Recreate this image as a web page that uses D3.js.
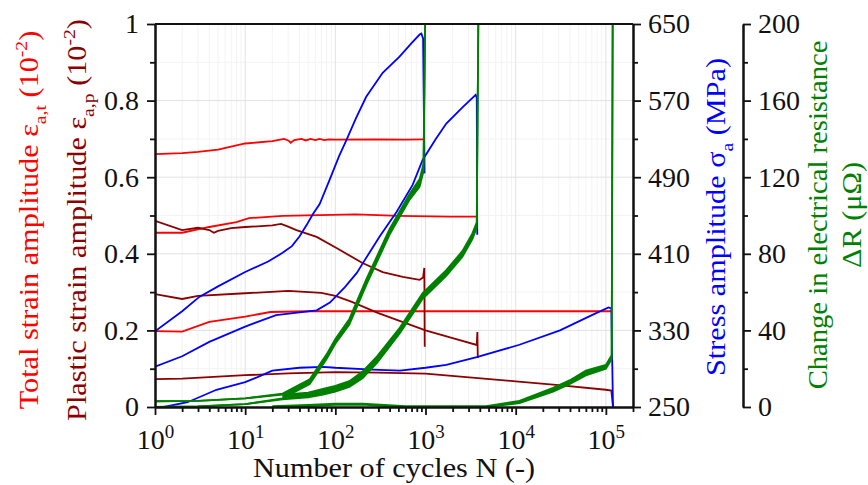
<!DOCTYPE html>
<html>
<head>
<meta charset="utf-8">
<style>
  body { margin: 0; background: #fff; }
  text { font-family: "Liberation Serif", "Times New Roman", serif; }
</style>
<title>Strain, stress and electrical resistance vs. number of cycles</title>
</head>
<body>
<script src="https://cdn.jsdelivr.net/npm/d3@7/dist/d3.min.js"></script>
<script>
  // ---- data: [N, value] ----
  // total strain amplitude (10^-2), three tests
  var totalA = [[1,0.66],[2,0.663],[3,0.666],[5,0.672],[10,0.688],[20,0.694],[27,0.700],[30,0.696],[32,0.690],[35,0.697],[42,0.70],[47,0.696],[53,0.70],[60,0.697],[67,0.70],[75,0.697],[85,0.699],[100,0.698],[300,0.699],[600,0.698],[950,0.699]];
  var totalB = [[1,0.455],[2,0.455],[4,0.47],[8,0.483],[11,0.493],[26,0.499],[170,0.503],[500,0.499],[1850,0.497],[3700,0.497]];
  var totalC = [[1,0.198],[2,0.197],[4,0.222],[10,0.236],[19,0.248],[50,0.25],[1000,0.25],[10000,0.25],[115000,0.25]];

  // plastic strain amplitude (10^-2)
  var plasticA = [[1,0.486],[2,0.462],[3,0.468],[4,0.462],[4.5,0.455],[5,0.46],[7,0.467],[10,0.47],[15,0.472],[20,0.474],[25,0.478],[30,0.471],[37,0.462],[62,0.444],[103,0.415],[200,0.376],[335,0.352],[560,0.34],[860,0.332],[940,0.338],[970,0.363],[980,0.157]];
  var plasticB = [[1,0.295],[2,0.282],[3,0.29],[10,0.297],[30,0.303],[70,0.298],[100,0.29],[150,0.275],[300,0.245],[1000,0.2],[2000,0.18],[3700,0.162],[3760,0.196],[3800,0.128]];
  var plasticC = [[1,0.073],[2,0.074],[10,0.083],[30,0.088],[100,0.091],[300,0.09],[1000,0.087],[10000,0.067],[30000,0.057],[100000,0.045],[115000,0.043],[120000,0.0]];

  // stress amplitude (MPa)
  var stressA = [[1,329],[2,350],[3.1,365],[5,376],[10,391],[18,402],[26,411],[33,418],[40,428],[48,440],[56,451],[67,462],[87,488],[110,512],[133,529],[170,552],[220,574],[335,599],[515,616],[700,630],[860,639],[900,640],[940,635],[975,494]];
  var stressB = [[1,292],[2,303],[4,318],[10,334],[22,346],[62,351],[87,359],[127,375],[173,390],[201,400],[310,428],[479,454],[720,482],[929,508],[1300,530],[1700,546],[2570,563],[3600,576],[3700,573],[3750,430]];
  var stressC = [[1.25,250],[2.3,255],[4.8,268],[10,276],[13.5,281],[20,288],[40,291],[73,292],[100,291],[260,289],[520,288],[1000,291],[1700,294],[3700,302],[11000,315],[31000,330],[70000,346],[107000,354],[115000,353],[120000,250]];

  // change in electrical resistance (µΩ): [N, lower, upper] of the oscillating band
  var resA = [[1,0,3],[3,0.3,3.2],[10,1.5,4.5],[26,4.5,7],[52,12,14.5],[80,25,27.5],[100,33,35.5],[143,43,46],[222,64,67],[400,90,93],[660,108,111],[860,115,119],[950,123,127],[990,200,200]];
  var resB = [[1,0,3],[3,0.3,3.2],[10,1.5,4.5],[26,4,6.5],[50,5,7.5],[73,6.5,9.5],[100,8,11],[143,10.5,13.5],[200,15,18.5],[290,23,26.5],[520,38.5,41.5],[930,56.5,59.5],[1700,68.5,71.5],[2570,78.5,81.5],[3300,87.5,90.5],[3700,93.5,96.5],[3850,200,200]];
  var resC = [[20,0,0.5],[50,0.5,1.1],[100,1.1,1.7],[200,1.2,1.8],[350,0.5,1.1],[600,0,0.4],[4700,0,0.4],[11000,2,3.2],[26000,8,10],[40000,12,14],[60000,16.5,19],[100000,20,22],[116000,25,27],[119000,200,200]];

  // ticks
  var xTicks = [1,10,100,1000,10000,100000];
  var xTickExp = ["0","1","2","3","4","5"];
  var strainTicks = [0,0.2,0.4,0.6,0.8,1];
  var strainLabels = ["0","0.2","0.4","0.6","0.8","1"];
  var strainMinor = [0.1,0.3,0.5,0.7,0.9];
  var stressTicks = [250,330,410,490,570,650];
  var stressMinor = [290,370,450,530,610];
  var resTicks = [0,40,80,120,160,200];
  var resMinor = [20,60,100,140,180];

  var colTotal = "#ff0000", colPlastic = "#8b0000", colStress = "#0000ff", colRes = "#008000";

  // ---- layout ----
  var width = 868, height = 485;
  var pLeft = 155, pRight = 633, pTop = 24, pBottom = 407;
  var fs = 28, ts = 27, stretch = 1.12;

  var x = d3.scaleLog().domain([1, 2e5]).range([pLeft, pRight]);
  var yStrain = d3.scaleLinear().domain([0, 1]).range([pBottom, pTop]);
  var yStress = d3.scaleLinear().domain([250, 650]).range([pBottom, pTop]);
  var yRes = d3.scaleLinear().domain([0, 200]).range([pBottom, pTop]);

  var xMinor = [];
  [1,10,100,1000,10000,100000].forEach(function(d) {
    for (var m = 2; m <= 9; m++) if (m * d <= 2e5) xMinor.push(m * d);
  });

  var svg = d3.select("body").append("svg")
    .attr("width", width)
    .attr("height", height);

  svg.append("defs").append("clipPath").attr("id", "plotclip")
    .append("rect").attr("x", pLeft).attr("y", pTop - 1)
    .attr("width", pRight - pLeft).attr("height", pBottom - pTop + 1);

  // grid: faint minor lines, light major lines
  var grid = svg.append("g").attr("stroke-width", 1);
  grid.selectAll(".hm").data(strainMinor).enter().append("line")
    .attr("stroke", "#f3f3f3")
    .attr("x1", pLeft).attr("x2", pRight)
    .attr("y1", function(d) { return yStrain(d); }).attr("y2", function(d) { return yStrain(d); });
  grid.selectAll(".vm").data(xMinor).enter().append("line")
    .attr("stroke", "#f3f3f3")
    .attr("y1", pTop).attr("y2", pBottom)
    .attr("x1", function(d) { return x(d); }).attr("x2", function(d) { return x(d); });
  grid.selectAll(".hg").data(strainTicks.slice(1, -1)).enter().append("line")
    .attr("stroke", "#e2e2e2")
    .attr("x1", pLeft).attr("x2", pRight)
    .attr("y1", function(d) { return yStrain(d); }).attr("y2", function(d) { return yStrain(d); });
  grid.selectAll(".vg").data(xTicks.slice(1)).enter().append("line")
    .attr("stroke", "#e2e2e2")
    .attr("y1", pTop).attr("y2", pBottom)
    .attr("x1", function(d) { return x(d); }).attr("x2", function(d) { return x(d); });

  // marks
  var plot = svg.append("g").attr("clip-path", "url(#plotclip)").attr("fill", "none");

  var strainLine = d3.line().x(function(d) { return x(d[0]); }).y(function(d) { return yStrain(d[1]); });
  var stressLine = d3.line().x(function(d) { return x(d[0]); }).y(function(d) { return yStress(d[1]); });
  var resLo = d3.line().x(function(d) { return x(d[0]); }).y(function(d) { return yRes(d[1]); });
  var resHi = d3.line().x(function(d) { return x(d[0]); }).y(function(d) { return yRes(d[2]); });
  // the early oscillation (loops) stays open, the dense part is a solid band
  var resBand = d3.area().defined(function(d) { return d[0] >= 20; })
    .x(function(d) { return x(d[0]); })
    .y0(function(d) { return yRes(d[1]); }).y1(function(d) { return yRes(d[2]); });

  [totalA, totalB, totalC].forEach(function(s) {
    plot.append("path").attr("d", strainLine(s)).attr("stroke", colTotal).attr("stroke-width", 1.8);
  });
  [plasticA, plasticB, plasticC].forEach(function(s) {
    plot.append("path").attr("d", strainLine(s)).attr("stroke", colPlastic).attr("stroke-width", 1.8);
  });
  [stressA, stressB, stressC].forEach(function(s) {
    plot.append("path").attr("d", stressLine(s)).attr("stroke", colStress).attr("stroke-width", 1.8);
  });
  [resA, resB, resC].forEach(function(s) {
    plot.append("path").attr("d", resBand(s)).attr("fill", colRes);
    plot.append("path").attr("d", resLo(s)).attr("stroke", colRes).attr("stroke-width", 1.8);
    plot.append("path").attr("d", resHi(s)).attr("stroke", colRes).attr("stroke-width", 1.8);
  });

  // ---- axes ----
  function styleAxis(g) {
    g.attr("font-family", null).attr("font-size", null);
    g.selectAll("path.domain").attr("stroke", "#111").attr("stroke-width", 2);
    g.selectAll(".tick line").attr("stroke", "#111").attr("stroke-width", 1.8);
    g.selectAll("text").attr("fill", "#111").attr("font-size", fs);
  }

  // top frame
  svg.append("line").attr("x1", pLeft).attr("x2", pRight).attr("y1", pTop).attr("y2", pTop)
    .attr("stroke", "#111").attr("stroke-width", 2);

  // bottom
  svg.append("g").attr("transform", "translate(0," + pBottom + ")")
    .call(d3.axisBottom(x).tickValues(xMinor).tickSize(5).tickSizeOuter(0).tickFormat(""))
    .call(styleAxis);
  var xAx = svg.append("g").attr("transform", "translate(0," + pBottom + ")")
    .call(d3.axisBottom(x).tickValues(xTicks).tickSize(8).tickSizeOuter(0))
    .call(styleAxis);
  xAx.selectAll(".tick text").each(function(d, i) {
    var t = d3.select(this).text("").attr("y", 42).attr("dy", null);
    t.append("tspan").text("10");
    t.append("tspan").attr("font-size", 19).attr("dy", -11).text(xTickExp[i]);
  });

  // left
  svg.append("g").attr("transform", "translate(" + pLeft + ",0)")
    .call(d3.axisLeft(yStrain).tickValues(strainMinor).tickSize(5).tickSizeOuter(0).tickFormat(""))
    .call(styleAxis);
  svg.append("g").attr("transform", "translate(" + pLeft + ",0)")
    .call(d3.axisLeft(yStrain).tickValues(strainTicks).tickSize(8).tickPadding(8).tickSizeOuter(0)
      .tickFormat(function(d, i) { return strainLabels[i]; }))
    .call(styleAxis);

  // right: stress
  svg.append("g").attr("transform", "translate(" + pRight + ",0)")
    .call(d3.axisRight(yStress).tickValues(stressMinor).tickSize(5).tickSizeOuter(0).tickFormat(""))
    .call(styleAxis);
  svg.append("g").attr("transform", "translate(" + pRight + ",0)")
    .call(d3.axisRight(yStress).tickValues(stressTicks).tickSize(8).tickPadding(7).tickSizeOuter(0))
    .call(styleAxis);

  // right: resistance
  var resX = 743;
  svg.append("g").attr("transform", "translate(" + resX + ",0)")
    .call(d3.axisRight(yRes).tickValues(resMinor).tickSize(5).tickSizeOuter(0).tickFormat(""))
    .call(styleAxis);
  svg.append("g").attr("transform", "translate(" + resX + ",0)")
    .call(d3.axisRight(yRes).tickValues(resTicks).tickSize(8).tickPadding(7).tickSizeOuter(0))
    .call(styleAxis);

  // ---- titles ----
  function rich(t, parts) {
    var shift = 0;
    parts.forEach(function(p) {
      var target = p[1] === "sub" ? 8 : p[1] === "sup" ? -11 : 0;
      var sp = t.append("tspan").text(p[0]).attr("dy", target - shift);
      if (p[1]) sp.attr("font-size", ts * 0.65);
      shift = target;
    });
  }
  function title(px, py, rot, color, parts, sx) {
    var t = svg.append("text")
      .attr("transform", "translate(" + px + "," + py + ")" + (rot ? " rotate(-90)" : "") + " scale(" + (sx || stretch) + ",1)")
      .attr("text-anchor", "middle").attr("font-size", ts).attr("fill", color);
    rich(t, parts);
  }

  title(394, 477, false, "#111", [["Number of cycles N (-)"]]);
  title(38, 220, true, colTotal, [["Total strain amplitude \u03b5"], ["a,t", "sub"], [" (10"], ["-2", "sup"], [")"]]);
  title(86, 220, true, colPlastic, [["Plastic strain amplitude \u03b5"], ["a,p", "sub"], [" (10"], ["-2", "sup"], [")"]]);
  title(725, 217, true, colStress, [["Stress amplitude \u03c3"], ["a", "sub"], [" (MPa)"]]);
  title(827, 215, true, colRes, [["Change in electrical resistance"]], 1.06);
  title(861, 215, true, colRes, [["\u0394R (\u03bc\u03a9)"]]);
</script>
</body>
</html>
